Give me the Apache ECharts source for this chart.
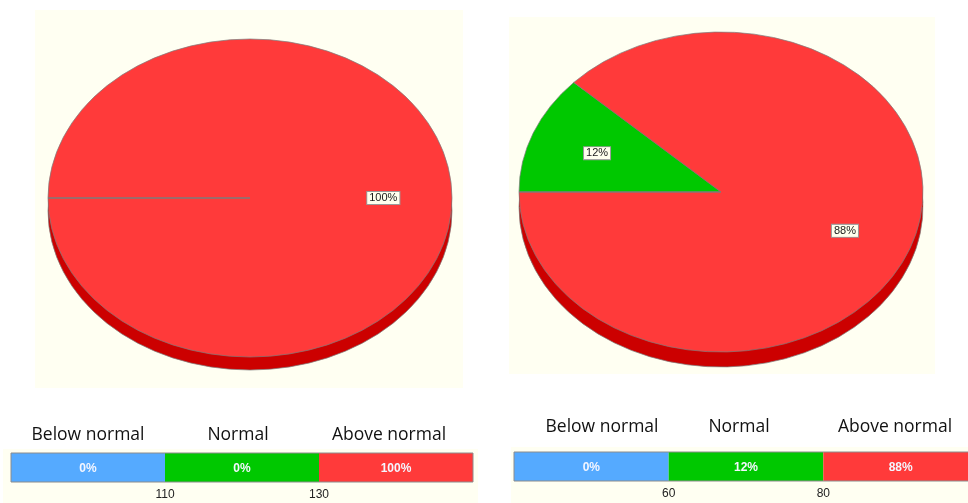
<!DOCTYPE html>
<html>
<head>
<meta charset="utf-8">
<script src="https://cdn.jsdelivr.net/npm/echarts@6/dist/echarts.min.js"></script>
<style>
  html, body { margin: 0; padding: 0; background: #ffffff; }
  #chart { width: 968px; height: 503px; }
</style>
</head>
<body>
<div id="chart"></div>
<script>
// Range names shared by both panels
const bandNames = ['Below normal', 'Normal', 'Above normal'];

// Share of readings per range (percent) for each panel
const leftShares = [0, 0, 100];
const rightShares = [0, 12, 88];

// Range boundaries printed under each colour key
const leftBreaks = ['110', '130'];
const rightBreaks = ['60', '80'];

// Styling
const topColors = ['#55aaff', '#00c800', '#ff3a3a'];
const sideColors = ['#2f7fd6', '#009400', '#cc0000'];
const edgeColor = '#7d7d7d';
const cream = '#fffff2';

const leftPie = { cx: 250, cy: 198, rx: 202, ry: 159, depth: 13 };
const rightPie = { cx: 721, cy: 192, rx: 202, ry: 160, depth: 15 };

function pieRenderer(shares, g) {
  const total = shares.reduce((a, b) => a + b, 0);
  const starts = [];
  let acc = 0;
  shares.forEach(v => { starts.push(acc); acc += v; });
  const k = g.ry / g.rx;
  const TAU = Math.PI * 2;
  return function (params, api) {
    const i = params.dataIndex;
    const v = api.value(0);
    const a0 = Math.PI + starts[i] / total * TAU;
    const a1 = a0 + v / total * TAU;
    const shape = { cx: g.cx, cy: g.cy, r: g.rx, r0: 0, startAngle: a0, endAngle: a1, clockwise: true };
    const children = [];
    if (v > 0) {
      // extruded rim
      children.push({
        type: 'sector', shape: shape, y: g.depth, originX: g.cx, originY: g.cy, scaleY: k,
        style: { fill: sideColors[i], stroke: edgeColor, lineWidth: 0.8, strokeNoScale: true }, z2: 0
      });
      if (a1 >= 3 * Math.PI - 1e-6) {
        children.push({ type: 'rect', shape: { x: g.cx - g.rx, y: g.cy, width: g.rx, height: g.depth },
          style: { fill: sideColors[i] }, z2: 1 });
      }
      if (a0 <= TAU && a1 > TAU) {
        children.push({ type: 'rect', shape: { x: g.cx, y: g.cy, width: g.rx, height: g.depth },
          style: { fill: sideColors[i] }, z2: 1 });
      }
      // top face
      children.push({
        type: 'sector', shape: shape, originX: g.cx, originY: g.cy, scaleY: k,
        style: { fill: topColors[i], stroke: edgeColor, lineWidth: 0.8, strokeNoScale: true }, z2: 10
      });
      const mid = (a0 + a1) / 2;
      children.push({
        type: 'text', z2: 20,
        style: {
          text: v + '%',
          x: g.cx + 0.66 * g.rx * Math.cos(mid),
          y: g.cy + 0.66 * g.ry * Math.sin(mid),
          align: 'center', verticalAlign: 'middle',
          fill: '#1a1a1a', font: '11px "Liberation Sans", Arial, sans-serif',
          backgroundColor: '#ffffee', borderColor: '#9a9a9a', borderWidth: 1, padding: [1, 2, 0, 2]
        }
      });
    } else {
      // an empty slice leaves only its radius edge
      children.push({
        type: 'line', z2: 11,
        shape: { x1: g.cx, y1: g.cy, x2: g.cx + g.rx * Math.cos(a0), y2: g.cy + g.ry * Math.sin(a0) },
        style: { stroke: edgeColor, lineWidth: 1 }
      });
    }
    return { type: 'group', children: children };
  };
}

function bandRenderer(shares) {
  return function (params, api) {
    const i = api.value(0);
    const p0 = api.coord([i, 1]);
    const p1 = api.coord([i + 1, 0]);
    return {
      type: 'group',
      children: [
        { type: 'rect', shape: { x: p0[0], y: p0[1], width: p1[0] - p0[0], height: p1[1] - p0[1] },
          style: { fill: topColors[i] } },
        { type: 'text', style: {
            text: shares[i] + '%', x: (p0[0] + p1[0]) / 2, y: (p0[1] + p1[1]) / 2 + 1,
            align: 'center', verticalAlign: 'middle',
            fill: '#f4f6ff', font: 'bold 12px "Liberation Sans", Arial, sans-serif' } }
      ]
    };
  };
}

function breakFormatter(breaks) {
  return function (v) {
    if (v === 1) return breaks[0];
    if (v === 2) return breaks[1];
    return '';
  };
}

const titleFont = '17.5px "Open Sans", sans-serif';
function titles(xs, y) {
  return bandNames.map((n, j) => ({
    type: 'text', x: xs[j], y: y,
    style: { text: n, font: titleFont, fill: '#111', align: 'center', verticalAlign: 'middle' }
  }));
}

const chart = echarts.init(document.getElementById('chart'), null, { renderer: 'canvas' });

const axisCommon = {
  type: 'value', min: 0, max: 3, interval: 1,
  axisLine: { show: false }, axisTick: { show: false }, splitLine: { show: false }
};
const tickFont = { color: '#222', fontSize: 12, fontFamily: '"Liberation Sans", Arial, sans-serif', margin: 7 };

chart.setOption({
  animation: false,
  backgroundColor: '#ffffff',
  graphic: [
    { type: 'rect', z: -10, shape: { x: 35, y: 10, width: 428, height: 378 }, style: { fill: cream } },
    { type: 'rect', z: -10, shape: { x: 509, y: 17, width: 426, height: 357 }, style: { fill: cream } },
    { type: 'rect', z: -10, shape: { x: 3, y: 449, width: 475, height: 54 }, style: { fill: cream } },
    { type: 'rect', z: -10, shape: { x: 511, y: 447, width: 457, height: 56 }, style: { fill: cream } }
  ].concat(titles([88, 238, 389], 435.5), titles([602, 739, 895], 427.5)),
  grid: [
    { left: 11, top: 453, width: 462, height: 29, show: true, z: 10, outerBoundsMode: 'none',
      backgroundColor: 'transparent', borderColor: '#8c8c8c', borderWidth: 1 },
    { left: 514, top: 452, width: 464, height: 29, show: true, z: 10, outerBoundsMode: 'none',
      backgroundColor: 'transparent', borderColor: '#8c8c8c', borderWidth: 1 }
  ],
  xAxis: [
    Object.assign({ gridIndex: 0, axisLabel: Object.assign({ formatter: breakFormatter(leftBreaks) }, tickFont) }, axisCommon),
    Object.assign({ gridIndex: 1, axisLabel: Object.assign({ formatter: breakFormatter(rightBreaks) }, tickFont) }, axisCommon)
  ],
  yAxis: [
    { type: 'value', gridIndex: 0, min: 0, max: 1, show: false },
    { type: 'value', gridIndex: 1, min: 0, max: 1, show: false }
  ],
  series: [
    { type: 'custom', coordinateSystem: 'none', renderItem: pieRenderer(leftShares, leftPie),
      data: leftShares.map(v => [v]), silent: true },
    { type: 'custom', coordinateSystem: 'none', renderItem: pieRenderer(rightShares, rightPie),
      data: rightShares.map(v => [v]), silent: true },
    { type: 'custom', xAxisIndex: 0, yAxisIndex: 0, renderItem: bandRenderer(leftShares),
      data: bandNames.map((n, j) => [j]), silent: true },
    { type: 'custom', xAxisIndex: 1, yAxisIndex: 1, renderItem: bandRenderer(rightShares),
      data: bandNames.map((n, j) => [j]), silent: true }
  ]
});
</script>
</body>
</html>
